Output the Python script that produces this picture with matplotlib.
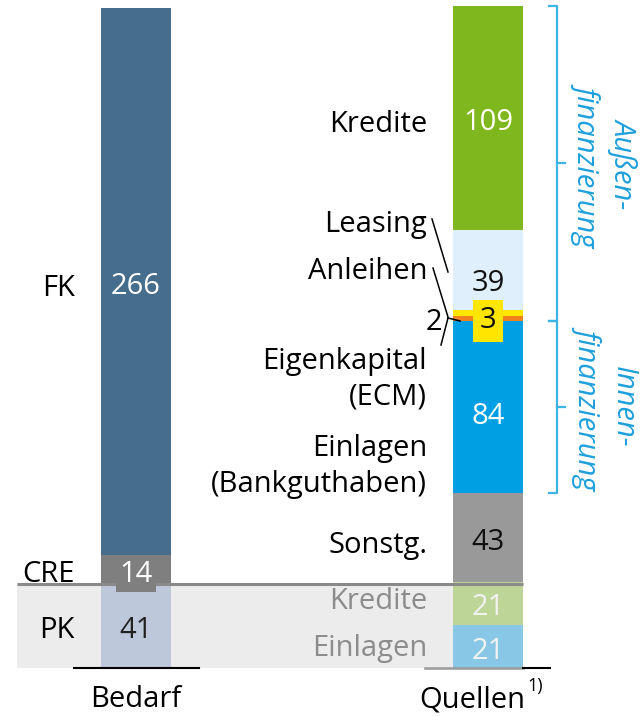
import matplotlib
matplotlib.use("Agg")
import matplotlib.pyplot as plt
from matplotlib.patches import Rectangle
import numpy as np

plt.rcParams['font.family'] = ['Open Sans', 'DejaVu Sans']

# ---------------- data ----------------
categories = ["Bedarf", "Quellen"]

bedarf_labels = ["PK", "CRE", "FK"]
bedarf_values = [41, 14, 266]
bedarf_colors = ["#bdc9da", "#7f7f7f", "#466e8c"]
bedarf_text_colors = ["#222222", "white", "white"]

quellen_labels = ["Einlagen", "Kredite", "Sonstg.", "Einlagen\n(Bankguthaben)",
                  "Eigenkapital\n(ECM)", "Anleihen", "Leasing", "Kredite"]
quellen_values = [21, 21, 43, 84, 2, 3, 39, 109]
quellen_colors = ["#88c8e6", "#bdd596", "#999999", "#009fe3",
                  "#f0821e", "#ffe600", "#dff0fc", "#7fb81e"]
quellen_text_colors = ["#f2f2f2", "#f2f2f2", "#111111", "white",
                       "#111111", "#111111", "#111111", "white"]
quellen_label_colors = ["#8c8c8c", "#8c8c8c", "black", "black",
                        "black", "black", "black", "black"]

bracket_texts = ["Außen-\nfinanzierung", "Innen-\nfinanzierung"]

# ---------------- layout ----------------
fig = plt.figure(figsize=(6.41, 7.16), dpi=100)
ax = fig.add_axes([0, 0, 1, 1])
ax.set_xlim(0, 641)
k = 660 / 321            # pixels per unit
base_px = 668
ax.set_ylim(-(716 - base_px) / k, base_px / k)
ax.axis('off')

def py(p):
    """pixel row -> data y"""
    return (base_px - p) / k

FS = 21
dy = 1.3   # small downward shift of text
x_left, x_right, bw = 136, 488, 70

# grey band for the lower part
ax.add_patch(Rectangle((17, 0), 453 - 17, bedarf_values[0], color="#ececec", lw=0, zorder=0))
ax.plot([17, 523], [bedarf_values[0]] * 2, color="#8a8a8a", lw=2.2, zorder=3, solid_capstyle='butt')

# left bar
lb = np.concatenate([[0], np.cumsum(bedarf_values)[:-1]])
ax.bar(x_left, bedarf_values, width=bw, bottom=lb, color=bedarf_colors, lw=0, zorder=2)
for i, (v, b) in enumerate(zip(bedarf_values, lb)):
    yc = b + v / 2
    kw = {}
    if bedarf_labels[i] == "CRE":
        kw = dict(bbox=dict(boxstyle="square,pad=0.12", fc="#7f7f7f", ec="none"))
    ax.text(x_left, yc - 1 - dy, str(v), ha='center', va='center', fontsize=FS,
            color=bedarf_text_colors[i], zorder=5, **kw)
ax.text(75, lb[0] + bedarf_values[0] / 2 - 1 - dy, bedarf_labels[0], ha='right', va='center', fontsize=FS)
ax.text(75, lb[1] + bedarf_values[1] / 2 - 1.3 - dy, bedarf_labels[1], ha='right', va='center', fontsize=FS)
ax.text(75, lb[2] + bedarf_values[2] / 2 - 2 - dy, bedarf_labels[2], ha='right', va='center', fontsize=FS)

# right bar
rb = np.concatenate([[0], np.cumsum(quellen_values)[:-1]])
ax.bar(x_right, quellen_values, width=bw, bottom=rb, color=quellen_colors, lw=0, zorder=2)

val_y = {}
for i, (v, b) in enumerate(zip(quellen_values, rb)):
    val_y[i] = b + v / 2
val_y[3] -= 2.5
val_y[6] -= 4
# value labels
for i, v in enumerate(quellen_values):
    if i == 4:
        ax.text(434, py(320) - dy, str(v), ha='center', va='center', fontsize=FS, color="black", zorder=5)
        continue
    if i == 5:
        ax.text(x_right, py(318) - dy, str(v), ha='center', va='center', fontsize=FS,
                color=quellen_text_colors[i], zorder=5,
                bbox=dict(boxstyle="square,pad=0.22", fc="#ffe600", ec="none"))
        continue
    ax.text(x_right, val_y[i] - 1 - dy, str(v), ha='center', va='center', fontsize=FS,
            color=quellen_text_colors[i], zorder=5)

# category labels on the right bar
label_px = [646, 599, 543, 464, 377, 269, 222, 122]
for i, lab in enumerate(quellen_labels):
    ax.text(427, py(label_px[i]) - dy, lab, ha='right', va='center', fontsize=FS,
            color=quellen_label_colors[i], linespacing=1.3, multialignment='right')

# leader lines
lc = dict(color="black", lw=1.1, zorder=4)
ax.plot([432, 448], [py(219), py(272)], **lc)
ax.plot([433, 448], [py(268), py(317)], **lc)
ax.plot([441, 448], [py(345), py(318)], **lc)
ax.plot([448, 460], [py(318), py(321)], **lc)

# baselines
ax.plot([74, 199], [0, 0], color="black", lw=1.5, zorder=4)
ax.plot([425, 523], [0, 0], color="#9a9a9a", lw=1.8, zorder=4)
ax.plot([523, 550], [0, 0], color="black", lw=1.5, zorder=4)

# x category labels
ax.text(x_left, py(697) - dy, categories[0], ha='center', va='center', fontsize=FS)
ax.text(525, py(697) - dy, categories[1], ha='right', va='center', fontsize=FS)
ax.text(527, py(686), "1)", ha='left', va='center', fontsize=13)

# brackets
top_total = float(np.sum(quellen_values))
innen_top = float(np.sum(quellen_values[:4]))
innen_bot = float(np.sum(quellen_values[:3]))
bc = "#3cb4e6"
for (y1, y2), txt in zip([(top_total, innen_top), (innen_top, innen_bot)], bracket_texts):
    ym = (y1 + y2) / 2
    ax.plot([549, 557, 557, 549], [y1, y1, y2, y2], color=bc, lw=1.6, zorder=4)
    ax.plot([557, 565], [ym, ym], color=bc, lw=1.6, zorder=4)
    ax.text(606, ym, txt, rotation=270, ha='center', va='center', fontsize=FS,
            style='italic', color="#1ea0dc", linespacing=1.22, multialignment='center')

fig.savefig("out.png", dpi=100)
